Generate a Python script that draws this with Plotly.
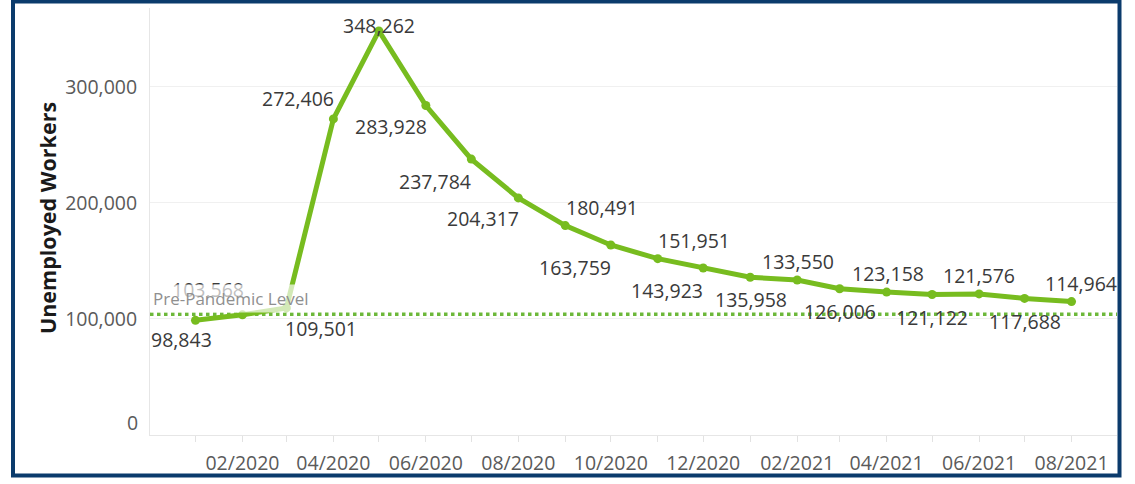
import plotly.graph_objects as go

# ---- data ----
months = ["2020-01", "2020-02", "2020-03", "2020-04", "2020-05", "2020-06",
          "2020-07", "2020-08", "2020-09", "2020-10", "2020-11", "2020-12",
          "2021-01", "2021-02", "2021-03", "2021-04", "2021-05", "2021-06",
          "2021-07", "2021-08"]
unemployed = [98843, 103568, 109501, 272406, 348262, 283928,
              237784, 204317, 180491, 163759, 151951, 143923,
              135958, 133550, 126006, 123158, 121122, 121576,
              117688, 114964]
pre_pandemic_level = 103971
y_ticks = [100000, 200000, 300000]

# label placement offsets (pixels, dx right, dy down)
label_offsets = [(-14, 19), (-34, -25), (35, 21), (-35, -20), (0, -5), (-35, 21),
                 (-36, 22), (-35, 21), (37, -18), (-36, 23), (36, -18), (-36, 22),
                 (1, 22), (1, -19), (0, 23), (1, -19), (0, 23), (0, -18),
                 (0, 23), (9, -18)]

GREEN = "#77BC1F"
FONT = "Open Sans"
FS = 19.5

# plot area geometry (px)
L, R, T, B = 150, 18, 8, 43
W, H = 1135, 484
PW, PH = W - L - R, H - T - B


def px_x(px):
    return (px - L) / PW


def px_y(py):
    return (H - B - py) / PH


fig = go.Figure()
fig.add_trace(go.Scatter(
    x=months, y=unemployed, mode="lines+markers",
    line=dict(color=GREEN, width=5),
    marker=dict(color=GREEN, size=9),
    hoverinfo="skip", showlegend=False,
))

annotations = []
for m, v, (dx, dy) in zip(months, unemployed, label_offsets):
    annotations.append(dict(
        x=m, y=v, xref="x", yref="y", text=f"{v:,}", showarrow=False,
        xanchor="center", yanchor="middle", xshift=dx, yshift=-dy,
        font=dict(family=FONT, size=FS, color="#3a3a3a"),
    ))

annotations.append(dict(
    x=px_x(150), y=px_y(303), xref="paper", yref="paper",
    text="Pre-Pandemic Level", showarrow=False, xanchor="left", yanchor="middle",
    font=dict(family=FONT, size=17, color="#8f8f8f"),
    bgcolor="rgba(255,255,255,0.68)", borderpad=2,
))

annotations.append(dict(
    x=px_x(140), y=px_y(428), xref="paper", yref="paper", text="0",
    showarrow=False, xanchor="right", yanchor="middle",
    font=dict(family=FONT, size=FS, color="#5a5a5a"),
))

annotations.append(dict(
    x=px_x(47), y=px_y(221), xref="paper", yref="paper",
    text="<b>Unemployed Workers</b>", showarrow=False, textangle=-90,
    xanchor="center", yanchor="middle",
    font=dict(family=FONT, size=21.5, color="#1a1a1a"),
))

shapes = [
    dict(type="line", xref="paper", yref="y", x0=0, x1=1,
         y0=pre_pandemic_level, y1=pre_pandemic_level,
         line=dict(color="#6DB83A", width=3.5, dash="dot"), layer="below"),
    dict(type="rect", xref="paper", yref="paper",
         x0=px_x(13), x1=px_x(1119.5), y0=px_y(482), y1=px_y(1.5),
         line=dict(color="#0B3B6C", width=4), fillcolor="rgba(0,0,0,0)"),
]

fig.update_layout(
    width=W, height=H,
    margin=dict(l=L, r=R, t=T, b=B, pad=0),
    paper_bgcolor="white", plot_bgcolor="white",
    annotations=annotations, shapes=shapes,
    xaxis=dict(
        type="date", range=["2019-12-02", "2021-08-31"],
        tick0="2020-02-01", dtick="M2", tickformat="%m/%Y",
        ticks="outside", ticklen=6, tickcolor="#e2e2e2", tickwidth=1,
        minor=dict(dtick="M1", ticks="outside", ticklen=6, tickcolor="#e2e2e2", showgrid=False),
        showgrid=False, showline=True, linecolor="#e6e6e6", linewidth=1,
        zeroline=False, ticklabelstandoff=5,
        tickfont=dict(family=FONT, size=FS, color="#5a5a5a"),
        fixedrange=True,
    ),
    yaxis=dict(
        range=[0, 368000], tickvals=y_ticks, tickformat=",d",
        showgrid=True, gridcolor="#f0f0f0", gridwidth=1,
        showline=True, linecolor="#e6e6e6", linewidth=1,
        zeroline=False, ticks="", ticklabelstandoff=8,
        tickfont=dict(family=FONT, size=FS, color="#5a5a5a"),
        fixedrange=True,
    ),
    font=dict(family=FONT),
)

fig.write_html(
    "out.html",
    config={"displayModeBar": False},
    post_script="document.body.style.margin='0';document.body.style.overflow='hidden';",
)
